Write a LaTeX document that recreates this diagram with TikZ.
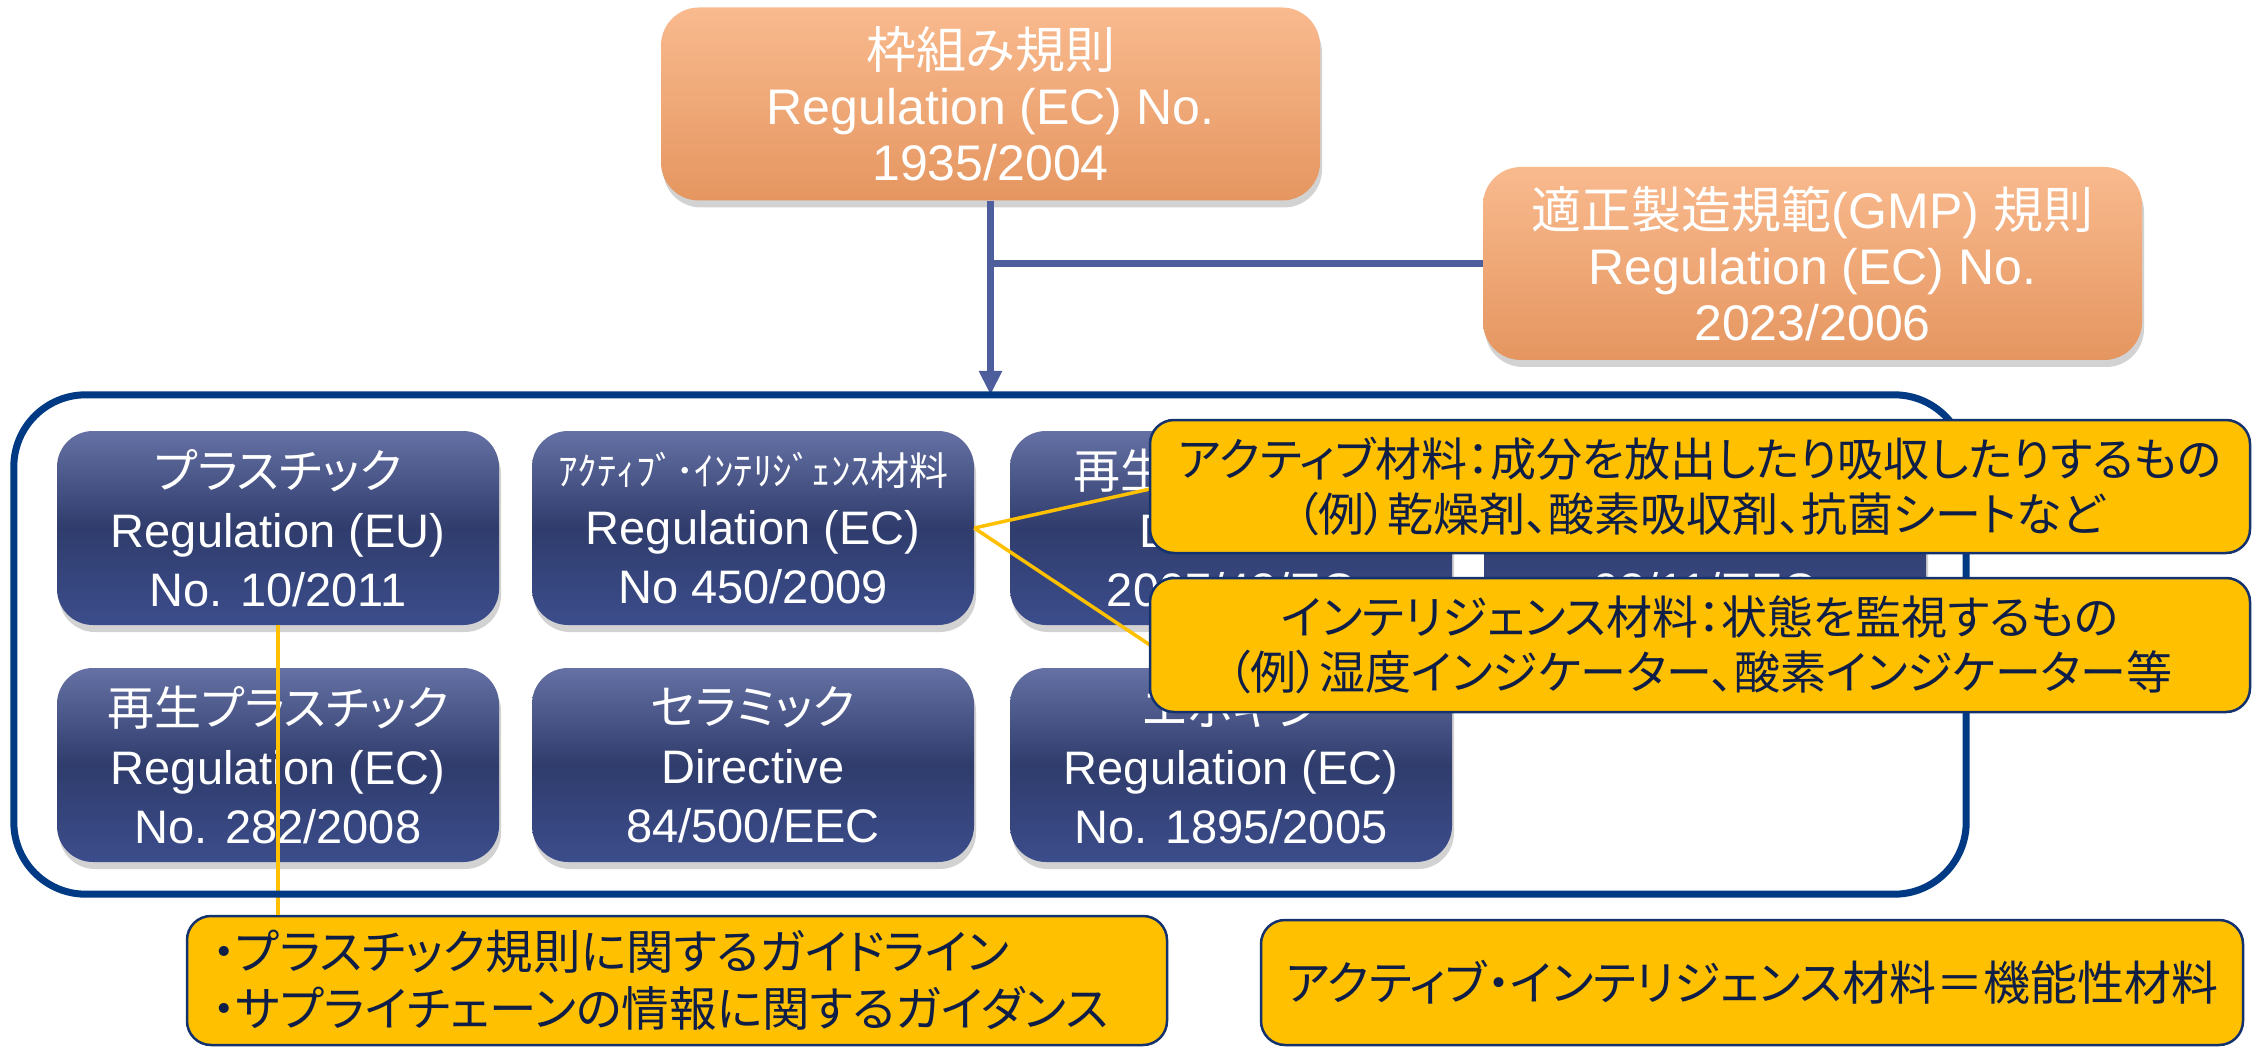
\documentclass[tikz,border=0pt]{standalone}
\usepackage{fontspec}
\setmainfont{Liberation Sans}
\newfontfamily\jp[RawFeature=+palt]{Noto Sans CJK JP}
\newfontfamily\jpw{Noto Sans CJK JP}
\usetikzlibrary{arrows.meta,shadows}
\definecolor{orTop}{RGB}{249,186,142}
\definecolor{orBot}{RGB}{229,150,96}
\definecolor{blTop}{RGB}{101,113,164}
\definecolor{blMid}{RGB}{47,60,108}
\definecolor{blBot}{RGB}{60,77,140}
\definecolor{frameblue}{RGB}{0,58,132}
\definecolor{connblue}{RGB}{78,94,156}
\definecolor{gold}{RGB}{255,192,0}
\definecolor{calledge}{RGB}{20,50,110}
\definecolor{calltext}{RGB}{14,30,70}
\begin{document}
\begin{tikzpicture}[x=1pt,y=-1pt,
  orangebox/.style={rounded corners=38pt, minimum width=659pt, minimum height=193pt,
    inner sep=0pt, top color=orTop, bottom color=orBot, text=white, align=center,
    font=\fontsize{50}{56}\selectfont,
    drop shadow={shadow xshift=2pt, shadow yshift=-7pt, opacity=0.35}},
  bluebox/.style={rounded corners=36pt, minimum width=442pt, minimum height=194pt,
    inner sep=0pt, top color=blTop, bottom color=blBot, middle color=blMid,
    text=white, align=center, font=\fontsize{47}{59}\selectfont,
    drop shadow={shadow xshift=2pt, shadow yshift=-7pt, opacity=0.35}},
  callout/.style={rounded corners=24pt, fill=gold, draw=calledge, line width=2.5pt,
    text=calltext, align=center, inner sep=0pt, font=\jp\fontsize{46}{55}\selectfont},
  conn/.style={draw=connblue, line width=7pt},
  goldline/.style={draw=gold, line width=3.5pt}
]
\useasboundingbox (0,0) rectangle (2254,1048);
\clip (0,0) rectangle (2254,1048);
\fill[white] (0,0) rectangle (2254,1048);

% top boxes
\node[orangebox] (top) at (990.5,104) {{\jp 枠組み規則}\\Regulation (EC) No.\\1935/2004};
\node[orangebox] (gmp) at (1812.5,263.5) {{\jp 適正製造規範}(GMP) {\jp 規則}\\Regulation (EC) No.\\2023/2006};

% frame (as a node)
\node[minimum width=1952pt, minimum height=499pt, inner sep=0pt] (frame) at (990,644.5) {};

% connectors
\draw[conn] (gmp.west) -- (gmp.west -| top.south);
\draw[conn, -{Triangle[length=24pt,width=22pt]}] (top.south) -- (top.south |- frame.north);

% blue boxes
\node[bluebox] (b1) at (278,528) {{\jp プラスチック}\\Regulation (EU)\\No. 10/2011};
\node[bluebox] (b2) at (753,528) {{\jpw\fontsize{39}{59}\selectfont ｱｸﾃｨﾌﾞ･ｲﾝﾃﾘｼﾞｪﾝｽ材料}\\Regulation (EC)\\No 450/2009};
\node[bluebox] (b3) at (1231,528) {{\jp 再生セルロース}\\Directive\\2007/42/EC};
\node[bluebox] (b4) at (1705,528) {{\jp\phantom{再生}}\\Directive\\93/11/EEC};
\node[bluebox] (b5) at (278,765) {{\jp 再生プラスチック}\\Regulation (EC)\\No. 282/2008};
\node[bluebox] (b6) at (753,765) {{\jp セラミック}\\Directive\\84/500/EEC};
\node[bluebox] (b7) at (1231,765) {{\jp エポキシ}\\Regulation (EC)\\No. 1895/2005};

% bottom-left callout
\node[callout, minimum width=980pt, minimum height=129pt, text width=930pt, align=left,
  font=\jp\fontsize{47.5}{57}\selectfont] (cL) at (677,980.5)
  {・プラスチック規則に関するガイドライン\\・サプライチェーンの情報に関するガイダンス};

\draw[goldline] (b1.south) -- (b1.south |- cL.north);

% frame outline
\draw[draw=frameblue, line width=7pt, rounded corners=72pt]
  (frame.north west) rectangle (frame.south east);

% pointer lines to right callouts
\coordinate (pA) at (1150,489);
\coordinate (pB) at (1150,645);
\draw[goldline] (b2.east) -- (pA);
\draw[goldline] (b2.east) -- (pB);

\node[callout, minimum width=1100pt, minimum height=133pt] (cA) at (1700,486.5)
  {アクティブ材料：成分を放出したり吸収したりするもの\\（例）乾燥剤、酸素吸収剤、抗菌シートなど};
\node[callout, minimum width=1100pt, minimum height=134pt] (cB) at (1700,645)
  {インテリジェンス材料：状態を監視するもの\\（例）湿度インジケーター、酸素インジケーター等};

\node[callout, minimum width=982pt, minimum height=125pt, font=\jp\fontsize{47}{55}\selectfont] (cR) at (1752,982.5)
  {アクティブ・インテリジェンス材料＝機能性材料};
\end{tikzpicture}
\end{document}
